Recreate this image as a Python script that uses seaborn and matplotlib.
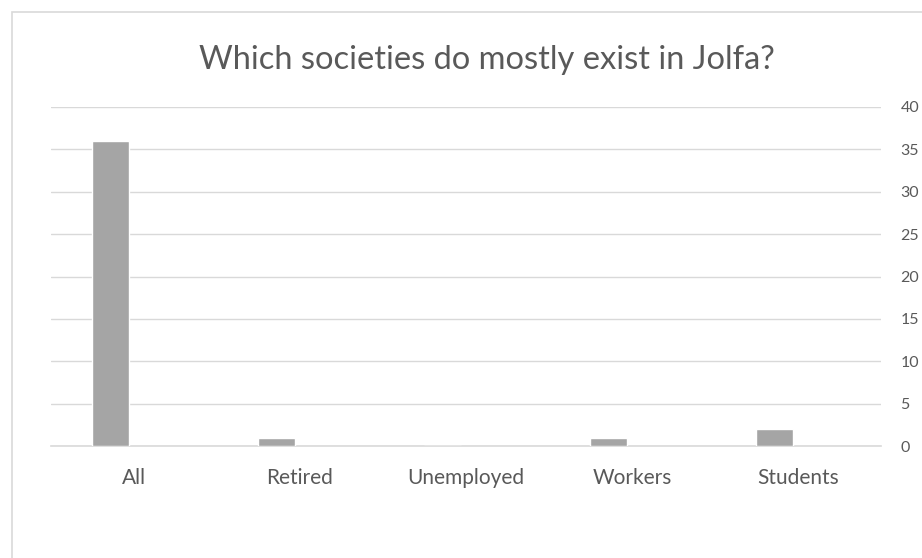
import matplotlib
matplotlib.use("Agg")
import matplotlib.pyplot as plt
import seaborn as sns
import pandas as pd
from matplotlib.patches import Rectangle

categories = ["All", "Retired", "Unemployed", "Workers", "Students"]
values = [36, 1, 0, 1, 2]
yticks = [0, 5, 10, 15, 20, 25, 30, 35, 40]
title = "Which societies do mostly exist in Jolfa?"
series = ["Series1", "Series2"]  # Series2 is an empty slot, as in the source chart

sns.set_theme(style="white")
plt.rcParams["font.family"] = ["Lato", "DejaVu Sans"]

df = pd.DataFrame({"category": categories, "value": values, "series": series[0]})

fig = plt.figure(figsize=(9.22, 5.58), dpi=100)
fig.patch.set_facecolor("white")
fig.patches.append(Rectangle((12/922, -0.1), 1.0, 1 - 12/558 + 0.1, transform=fig.transFigure,
                             fill=False, edgecolor="#d9d9d9", linewidth=1.2, zorder=0))

ax = fig.add_axes([51/922, 1 - 446/558, 830/922, (446 - 107)/558])
sns.barplot(data=df, x="category", y="value", hue="series", hue_order=series,
            palette=["#a5a5a5", "#a5a5a5"], width=0.57, gap=0.21, dodge=True,
            saturation=1, legend=False, ax=ax, zorder=3)

ax.set_ylim(0, 40)
ax.set_yticks(yticks)
ax.yaxis.tick_right()
ax.tick_params(axis="y", length=0, pad=14, labelsize=11.5, labelcolor="#595959")
ax.tick_params(axis="x", length=0, pad=16, labelsize=15, labelcolor="#595959")
ax.set_xlabel("")
ax.set_ylabel("")
for s in ["top", "left", "right"]:
    ax.spines[s].set_visible(False)
ax.spines["bottom"].set_color("#d9d9d9")
ax.spines["bottom"].set_linewidth(1.2)
ax.grid(axis="y", color="#d9d9d9", linewidth=1.0, zorder=0)
ax.set_axisbelow(True)

fig.text(487/922, 1 - 60/558, title, ha="center", va="center",
         fontsize=23.5, color="#595959")

fig.savefig("out.png", dpi=100)
